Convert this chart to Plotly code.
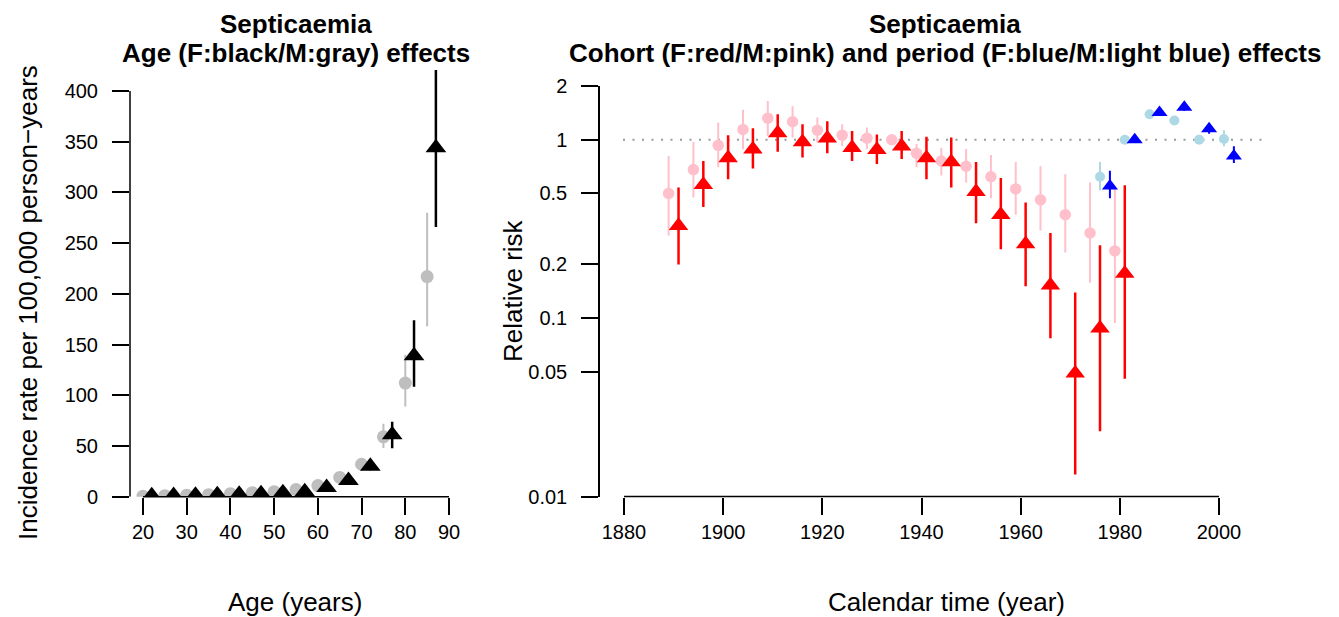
import math
import plotly.graph_objects as go

# The page body keeps an 8 px margin, so the figure is sized to fill the
# remaining part of the 1339x617 window.
OFF = 8
W, H = 1339 - OFF, 617 - OFF

# ---------------- data ----------------
# Age effects (incidence per 100,000 person-years)
age_m = [20, 25, 30, 35, 40, 45, 50, 55, 60, 65, 70, 75, 80, 85]
rate_m = [0.5, 1, 1.5, 2, 3, 4, 5, 7, 11, 19, 32, 59, 112, 217]
rate_m_lo = [0.3, 0.7, 1.1, 1.5, 2.4, 3.3, 4.2, 6, 9.5, 16.5, 28, 48, 89, 168]
rate_m_hi = [0.8, 1.4, 2.0, 2.6, 3.7, 4.8, 6, 8.2, 12.7, 22, 37, 72, 140, 280]

age_f = [22, 27, 32, 37, 42, 47, 52, 57, 62, 67, 72, 77, 82, 87]
rate_f = [1, 1.2, 1.5, 2, 2.5, 3, 4, 5, 9, 16, 30, 61, 139, 344]
rate_f_lo = [0.6, 0.8, 1.1, 1.5, 1.9, 2.4, 3.2, 4.1, 7.5, 13, 26, 47.7, 108.5, 266]
rate_f_hi = [1.6, 1.8, 2.1, 2.7, 3.3, 3.8, 5, 6.2, 10.8, 19.5, 35, 74, 174, 421]

# Cohort effects (relative risk)
coh_m = [1889, 1894, 1899, 1904, 1909, 1914, 1919, 1924, 1929, 1934,
         1939, 1944, 1949, 1954, 1959, 1964, 1969, 1974, 1979]
rr_coh_m = [0.50, 0.68, 0.93, 1.14, 1.32, 1.26, 1.13, 1.06, 1.02, 1.00,
            0.84, 0.76, 0.71, 0.62, 0.53, 0.46, 0.38, 0.30, 0.238]
rr_coh_m_lo = [0.29, 0.475, 0.70, 0.885, 1.05, 1.03, 0.966, 0.92, 0.886, 0.97,
               0.70, 0.63, 0.575, 0.47, 0.38, 0.31, 0.233, 0.158, 0.094]
rr_coh_m_hi = [0.81, 0.97, 1.25, 1.47, 1.65, 1.54, 1.33, 1.22, 1.17, 1.03,
               0.945, 0.90, 0.886, 0.82, 0.75, 0.71, 0.64, 0.575, 0.53]

coh_f = [1891, 1896, 1901, 1906, 1911, 1916, 1921, 1926, 1931, 1936,
         1941, 1946, 1951, 1956, 1961, 1966, 1971, 1976, 1981]
rr_coh_f = [0.329, 0.56, 0.79, 0.885, 1.09, 0.97, 1.02, 0.90, 0.877, 0.92,
            0.79, 0.75, 0.51, 0.38, 0.26, 0.153, 0.049, 0.0877, 0.178]
rr_coh_f_lo = [0.20, 0.42, 0.60, 0.69, 0.855, 0.796, 0.84, 0.76, 0.73, 0.78,
               0.60, 0.54, 0.34, 0.243, 0.151, 0.077, 0.0133, 0.0232, 0.0457]
rr_coh_f_hi = [0.54, 0.76, 1.06, 1.16, 1.39, 1.22, 1.27, 1.12, 1.07, 1.12,
               1.04, 1.03, 0.75, 0.61, 0.445, 0.30, 0.139, 0.256, 0.556]

# Period effects (relative risk)
per_m = [1976, 1981, 1986, 1991, 1996, 2001]
rr_per_m = [0.62, 1.0, 1.39, 1.28, 1.0, 1.01]
rr_per_m_lo = [0.52, 1.0, 1.33, 1.22, 0.98, 0.92]
rr_per_m_hi = [0.75, 1.0, 1.47, 1.33, 1.02, 1.13]

per_f = [1978, 1983, 1988, 1993, 1998, 2003]
rr_per_f = [0.55, 1.0, 1.42, 1.52, 1.15, 0.81]
rr_per_f_lo = [0.47, 1.0, 1.36, 1.45, 1.08, 0.74]
rr_per_f_hi = [0.67, 1.0, 1.48, 1.58, 1.22, 0.92]

# Tick labels
age_ticks = [20, 30, 40, 50, 60, 70, 80, 90]
rate_ticks = [0, 50, 100, 150, 200, 250, 300, 350, 400]
year_ticks = [1880, 1900, 1920, 1940, 1960, 1980, 2000]
rr_ticks = [0.01, 0.05, 0.1, 0.2, 0.5, 1, 2]
rr_tick_text = ["0.01", "0.05", "0.1", "0.2", "0.5", "1", "2"]

# Texts
title_top = "Septicaemia"
title_left = "Age (F:black/M:gray) effects"
title_right = "Cohort (F:red/M:pink) and period (F:blue/M:light blue) effects"

# ---------------- helpers ----------------
FONT = "Liberation Sans, Arial, Helvetica, sans-serif"


def px(x):
    return (x - OFF) / W


def py(y):
    return 1 - (y - OFF) / H


def err(v, lo, hi):
    return dict(type="data", symmetric=False,
                array=[h - c for c, h in zip(v, hi)],
                arrayminus=[c - l for c, l in zip(v, lo)])


def pts(x, v, lo, hi, color, symbol, size, thick, xa, ya):
    e = err(v, lo, hi)
    e.update(color=color, thickness=thick, width=0)
    return go.Scatter(x=x, y=v, mode="markers", xaxis=xa, yaxis=ya,
                      marker=dict(color=color, symbol=symbol, size=size,
                                  line=dict(width=0)),
                      error_y=e, showlegend=False, hoverinfo="x+y")


fig = go.Figure()

# Left panel: age effects
fig.add_trace(pts(age_m, rate_m, rate_m_lo, rate_m_hi, "#bebebe",
                  "circle", 13, 2, "x", "y"))
fig.add_trace(pts(age_f, rate_f, rate_f_lo, rate_f_hi, "#000000",
                  "triangle-up", 18, 2.5, "x", "y"))

# Right panel: cohort and period
fig.add_trace(pts(coh_m, rr_coh_m, rr_coh_m_lo, rr_coh_m_hi, "#ffc0cb",
                  "circle", 11.5, 2, "x2", "y2"))
fig.add_trace(pts(coh_f, rr_coh_f, rr_coh_f_lo, rr_coh_f_hi, "#ff0000",
                  "triangle-up", 17, 2.5, "x2", "y2"))
fig.add_trace(pts(per_m, rr_per_m, rr_per_m_lo, rr_per_m_hi, "#add8e6",
                  "circle", 10, 2, "x2", "y2"))
fig.add_trace(pts(per_f, rr_per_f, rr_per_f_lo, rr_per_f_hi, "#0000ff",
                  "triangle-up", 14, 2, "x2", "y2"))

# Pixel layout of the two panels (window pixels)
L_x0, L_x1 = 130, 460
L_ytop, L_ybot = 70, 496.7
R_x0, R_x1 = 623, 1265
R_ytop, R_ybot = 86, 496.5
R_yaxis_pos = 599

# left x range so that 20 -> 143 px and 90 -> 449 px
ppu = (449 - 143) / (age_ticks[-1] - age_ticks[0])
L_xr = [age_ticks[0] - (143 - L_x0) / ppu, age_ticks[-1] + (L_x1 - 449) / ppu]
# left y range so that 0 -> 496.7 and 400 -> 91
ppy = (496.7 - 91) / (rate_ticks[-1] - rate_ticks[0])
L_yr = [0, (L_ybot - L_ytop) / ppy]

# right x range so that 1880 -> 624 and 2000 -> 1219
ppx = (1219 - 624) / (year_ticks[-1] - year_ticks[0])
R_xr = [year_ticks[0] - (624 - R_x0) / ppx, year_ticks[-1] + (R_x1 - 1219) / ppx]
R_yr = [math.log10(rr_ticks[0]), math.log10(rr_ticks[-1])]

tickfont = dict(family=FONT, size=20, color="#000")
common = dict(showgrid=False, zeroline=False, ticks="outside", ticklen=17,
              tickwidth=1.5, tickcolor="#000", tickfont=tickfont,
              automargin=False)

fig.update_layout(
    template="none",
    width=W, height=H,
    margin=dict(l=0, r=0, t=0, b=0, pad=0, autoexpand=False),
    paper_bgcolor="white", plot_bgcolor="white",
    font=dict(family=FONT, color="#000"),
    xaxis=dict(domain=[px(L_x0), px(L_x1)], range=L_xr, anchor="y",
               tickvals=age_ticks, showline=False, **common),
    yaxis=dict(domain=[py(L_ybot), py(L_ytop)], range=L_yr, anchor="x",
               tickvals=rate_ticks, showline=False, ticklabelstandoff=10,
               **common),
    xaxis2=dict(domain=[px(R_x0), px(R_x1)], range=R_xr, anchor="y2",
                tickvals=year_ticks, showline=False, **common),
    yaxis2=dict(domain=[py(R_ybot), py(R_ytop)], range=R_yr, type="log",
                anchor="free", position=px(R_yaxis_pos),
                tickvals=rr_ticks, ticktext=rr_tick_text,
                showline=True, linecolor="#000", linewidth=1.5,
                ticklabelstandoff=10, **common),
)

# R-style axis lines spanning only the tick range
axis_line = dict(color="#000", width=1.5)
fig.add_shape(type="line", xref="x", yref="y domain",
              x0=age_ticks[0], x1=age_ticks[-1], y0=0, y1=0, line=axis_line)
fig.add_shape(type="line", xref="x domain", yref="y",
              x0=0, x1=0, y0=rate_ticks[0], y1=rate_ticks[-1], line=axis_line)
fig.add_shape(type="line", xref="x2", yref="y2 domain",
              x0=year_ticks[0], x1=year_ticks[-1], y0=0, y1=0, line=axis_line)

# dotted reference line at RR = 1
fig.add_shape(type="line", xref="x2 domain", yref="y2",
              x0=0, x1=1, y0=1, y1=1,
              line=dict(color="#999999", width=2, dash="2px,7.5px"),
              layer="below")

# Titles (first line kept inside the figure's top edge)
tfont = dict(family=FONT, size=26, color="#000")
for cx, line2 in ((296, title_left), (945, title_right)):
    fig.add_annotation(x=px(cx), y=1, xref="paper", yref="paper",
                       text="<b>%s</b>" % title_top, showarrow=False,
                       font=tfont, xanchor="center", yanchor="top", borderpad=0)
    fig.add_annotation(x=px(cx), y=py(53), xref="paper", yref="paper",
                       text="<b>%s</b>" % line2, showarrow=False,
                       font=tfont, xanchor="center", yanchor="middle", borderpad=0)

afont = dict(family=FONT, size=26, color="#000")
fig.add_annotation(x=px(295), y=py(602), xref="paper", yref="paper",
                   text="Age (years)", showarrow=False, font=afont,
                   xanchor="center", yanchor="middle")
fig.add_annotation(x=px(946), y=py(602), xref="paper", yref="paper",
                   text="Calendar time (year)", showarrow=False, font=afont,
                   xanchor="center", yanchor="middle")
fig.add_annotation(x=px(28), y=py(303), xref="paper", yref="paper",
                   text="Incidence rate per 100,000 person\u2212years",
                   showarrow=False, font=afont, textangle=-90,
                   xanchor="center", yanchor="middle")
fig.add_annotation(x=px(513), y=py(291), xref="paper", yref="paper",
                   text="Relative risk", showarrow=False, font=afont,
                   textangle=-90, xanchor="center", yanchor="middle")

fig.write_html("out.html")
